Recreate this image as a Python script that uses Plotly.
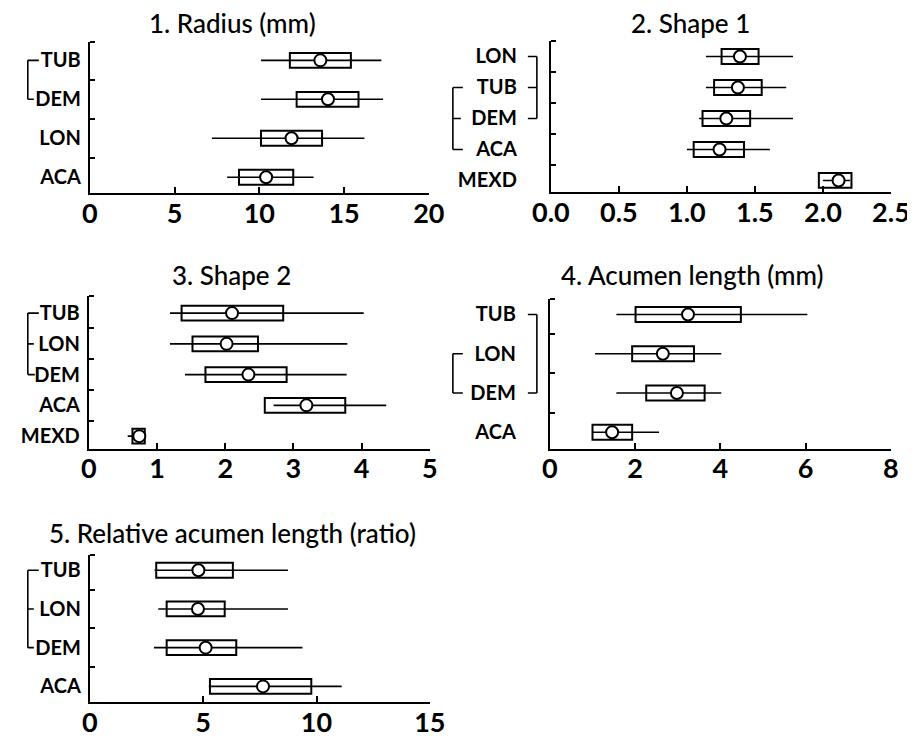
import plotly.graph_objects as go

# ---------------- data (bottom category first) ----------------
RADIUS_CATS = ["ACA", "LON", "DEM", "TUB"]
RADIUS_LOW = [8.1, 7.2, 10.1, 10.1]
RADIUS_Q1 = [8.8, 10.1, 12.2, 11.8]
RADIUS_MEAN = [10.4, 11.9, 14.05, 13.6]
RADIUS_Q3 = [12.0, 13.7, 15.85, 15.4]
RADIUS_HIGH = [13.2, 16.2, 17.3, 17.2]

SHAPE1_CATS = ["MEXD", "ACA", "DEM", "TUB", "LON"]
SHAPE1_LOW = [2.0, 1.0, 1.09, 1.14, 1.14]
SHAPE1_Q1 = [1.97, 1.05, 1.115, 1.20, 1.255]
SHAPE1_MEAN = [2.115, 1.24, 1.29, 1.375, 1.39]
SHAPE1_Q3 = [2.21, 1.42, 1.465, 1.55, 1.527]
SHAPE1_HIGH = [2.2, 1.61, 1.78, 1.73, 1.78]

SHAPE2_CATS = ["MEXD", "ACA", "DEM", "LON", "TUB"]
SHAPE2_LOW = [0.57, 2.71, 1.41, 1.19, 1.19]
SHAPE2_Q1 = [0.64, 2.58, 1.71, 1.52, 1.36]
SHAPE2_MEAN = [0.74, 3.19, 2.34, 2.02, 2.10]
SHAPE2_Q3 = [0.82, 3.76, 2.90, 2.48, 2.85]
SHAPE2_HIGH = [0.82, 4.36, 3.78, 3.79, 4.03]

ACUMEN_CATS = ["ACA", "DEM", "LON", "TUB"]
ACUMEN_LOW = [1.0, 1.56, 1.06, 1.56]
ACUMEN_Q1 = [1.0, 2.26, 1.93, 2.01]
ACUMEN_MEAN = [1.46, 2.98, 2.65, 3.24]
ACUMEN_Q3 = [1.93, 3.63, 3.38, 4.48]
ACUMEN_HIGH = [2.56, 4.02, 4.02, 6.04]

RELACU_CATS = ["ACA", "DEM", "LON", "TUB"]
RELACU_LOW = [5.25, 2.83, 3.02, 2.86]
RELACU_Q1 = [5.30, 3.39, 3.39, 2.93]
RELACU_MEAN = [7.64, 5.11, 4.77, 4.79]
RELACU_Q3 = [9.77, 6.46, 5.95, 6.31]
RELACU_HIGH = [11.11, 9.38, 8.74, 8.74]

TITLES = ["1. Radius (mm)", "2. Shape 1", "3. Shape 2",
          "4. Acumen length (mm)", "5. Relative acumen length (ratio)"]
X_RANGES = [(0, 20), (0, 2.5), (0, 5), (0, 8), (0, 15)]
X_DTICKS = [5, 0.5, 1, 2, 5]
X_FORMATS = ["d", ".1f", "d", "d", "d"]

DATA = [
    (RADIUS_CATS, RADIUS_LOW, RADIUS_Q1, RADIUS_MEAN, RADIUS_Q3, RADIUS_HIGH),
    (SHAPE1_CATS, SHAPE1_LOW, SHAPE1_Q1, SHAPE1_MEAN, SHAPE1_Q3, SHAPE1_HIGH),
    (SHAPE2_CATS, SHAPE2_LOW, SHAPE2_Q1, SHAPE2_MEAN, SHAPE2_Q3, SHAPE2_HIGH),
    (ACUMEN_CATS, ACUMEN_LOW, ACUMEN_Q1, ACUMEN_MEAN, ACUMEN_Q3, ACUMEN_HIGH),
    (RELACU_CATS, RELACU_LOW, RELACU_Q1, RELACU_MEAN, RELACU_Q3, RELACU_HIGH),
]

# ---------------- layout geometry ----------------
# Targets are given in final picture pixels; the measured mapping of the
# rendered page to the picture is  x_pic = X0 + SX * x_fig,  y_pic = Y0 + y_fig.
W, H = 930, 730
X0, SX, Y0 = 26.2, 0.959, 8.0

GEOM = [
    dict(l=89, r=428, t=42, b=195, yr=(-0.41, 3.48), title=(232, 23), standoff=3),
    dict(l=550, r=890, t=41, b=194, yr=(-0.38, 4.51), title=(690, 23), standoff=28),
    dict(l=88, r=429, t=299, b=453, yr=(-0.41, 4.55), title=(231, 278), standoff=3),
    dict(l=549, r=890, t=302, b=453, yr=(-0.42, 3.39), title=(692, 278), standoff=28),
    dict(l=89, r=429, t=560, b=709, yr=(-0.41, 3.40), title=(232, 538), standoff=3),
]
# brackets in picture px: vertical line x, and (category index, tick end x)
BRACKETS = [
    [dict(vx=27, ticks=[(3, 38), (2, 33)])],
    [dict(vx=536, ticks=[(4, 527), (3, 527), (2, 527)]),
     dict(vx=452, ticks=[(3, 462), (2, 460), (1, 462)])],
    [dict(vx=27, ticks=[(4, 38), (3, 33), (2, 34)])],
    [dict(vx=536, ticks=[(3, 527), (1, 527)]),
     dict(vx=452, ticks=[(2, 462), (1, 462)])],
    [dict(vx=27, ticks=[(3, 38), (2, 33), (1, 33)])],
]
BOX_PX = 15
FONT = "Lato"


def fx(px):
    return ((px - X0) / SX) / W


def fy(py):
    return 1 - (py - Y0) / H


fig = go.Figure()
shapes = []
annotations = []
layout_axes = {}

for i, (cats, low, q1, mean, q3, high) in enumerate(DATA):
    n = i + 1
    xa = "x" if n == 1 else f"x{n}"
    ya = "y" if n == 1 else f"y{n}"
    g = GEOM[i]
    pos = list(range(len(cats)))
    span = g["yr"][1] - g["yr"][0]
    px_per_unit = (g["b"] - g["t"]) / span
    box_w = BOX_PX / px_per_unit

    fig.add_trace(go.Bar(
        orientation="h", y=pos, x=[b - a for a, b in zip(q1, q3)], base=q1,
        width=box_w, marker=dict(color="white", line=dict(color="black", width=2)),
        xaxis=xa, yaxis=ya, showlegend=False, hoverinfo="skip"))
    fig.add_trace(go.Scatter(
        x=mean, y=pos, mode="markers",
        marker=dict(symbol="circle", size=12, color="white",
                    line=dict(color="black", width=2)),
        error_x=dict(type="data", symmetric=False,
                     array=[h - m for h, m in zip(high, mean)],
                     arrayminus=[m - lo for m, lo in zip(mean, low)],
                     width=0, thickness=1.6, color="black"),
        xaxis=xa, yaxis=ya, showlegend=False))

    xkey = "xaxis" if n == 1 else f"xaxis{n}"
    ykey = "yaxis" if n == 1 else f"yaxis{n}"
    layout_axes[xkey] = dict(
        domain=[fx(g["l"]), fx(g["r"])], anchor=ya, range=list(X_RANGES[i]),
        dtick=X_DTICKS[i], tick0=0, tickformat=X_FORMATS[i],
        showline=True, linecolor="black", linewidth=2, mirror=False,
        ticks="inside", ticklen=6, tickwidth=2, tickcolor="black",
        ticklabelstandoff=-5,
        showgrid=False, zeroline=False,
        tickfont=dict(family=FONT, size=27, color="black", weight="bold"))
    minor_vals = [p + 0.5 for p in pos[:-1]] + [g["yr"][1]]
    layout_axes[ykey] = dict(
        domain=[fy(g["b"]), fy(g["t"])], anchor=xa, range=list(g["yr"]),
        tickmode="array", tickvals=pos, ticktext=cats, ticks="",
        ticklabelstandoff=g["standoff"],
        showline=True, linecolor="black", linewidth=2,
        showgrid=False, zeroline=False,
        minor=dict(tickmode="array", tickvals=minor_vals, ticks="inside",
                   ticklen=5, tickwidth=1.5, tickcolor="black", showgrid=False),
        tickfont=dict(family=FONT, size=20, color="black", weight="bold"))

    for br in BRACKETS[i]:
        ys = [t[0] for t in br["ticks"]]
        shapes.append(dict(type="line", xref="paper", yref=ya,
                           x0=fx(br["vx"]), x1=fx(br["vx"]),
                           y0=min(ys), y1=max(ys),
                           line=dict(color="black", width=1.6)))
        for cy, tx in br["ticks"]:
            shapes.append(dict(type="line", xref="paper", yref=ya,
                               x0=fx(br["vx"]), x1=fx(tx), y0=cy, y1=cy,
                               line=dict(color="black", width=1.6)))

    tx, ty = g["title"]
    annotations.append(dict(text=TITLES[i], xref="paper", yref="paper",
                            x=fx(tx), y=fy(ty), xanchor="center", yanchor="middle",
                            showarrow=False,
                            font=dict(family=FONT, size=26, color="black", weight=500)))

fig.update_layout(
    width=W, height=H, margin=dict(l=0, r=0, t=0, b=0),
    paper_bgcolor="white", plot_bgcolor="white", barmode="overlay",
    shapes=shapes, annotations=annotations, **layout_axes)

fig.write_html("out.html")
